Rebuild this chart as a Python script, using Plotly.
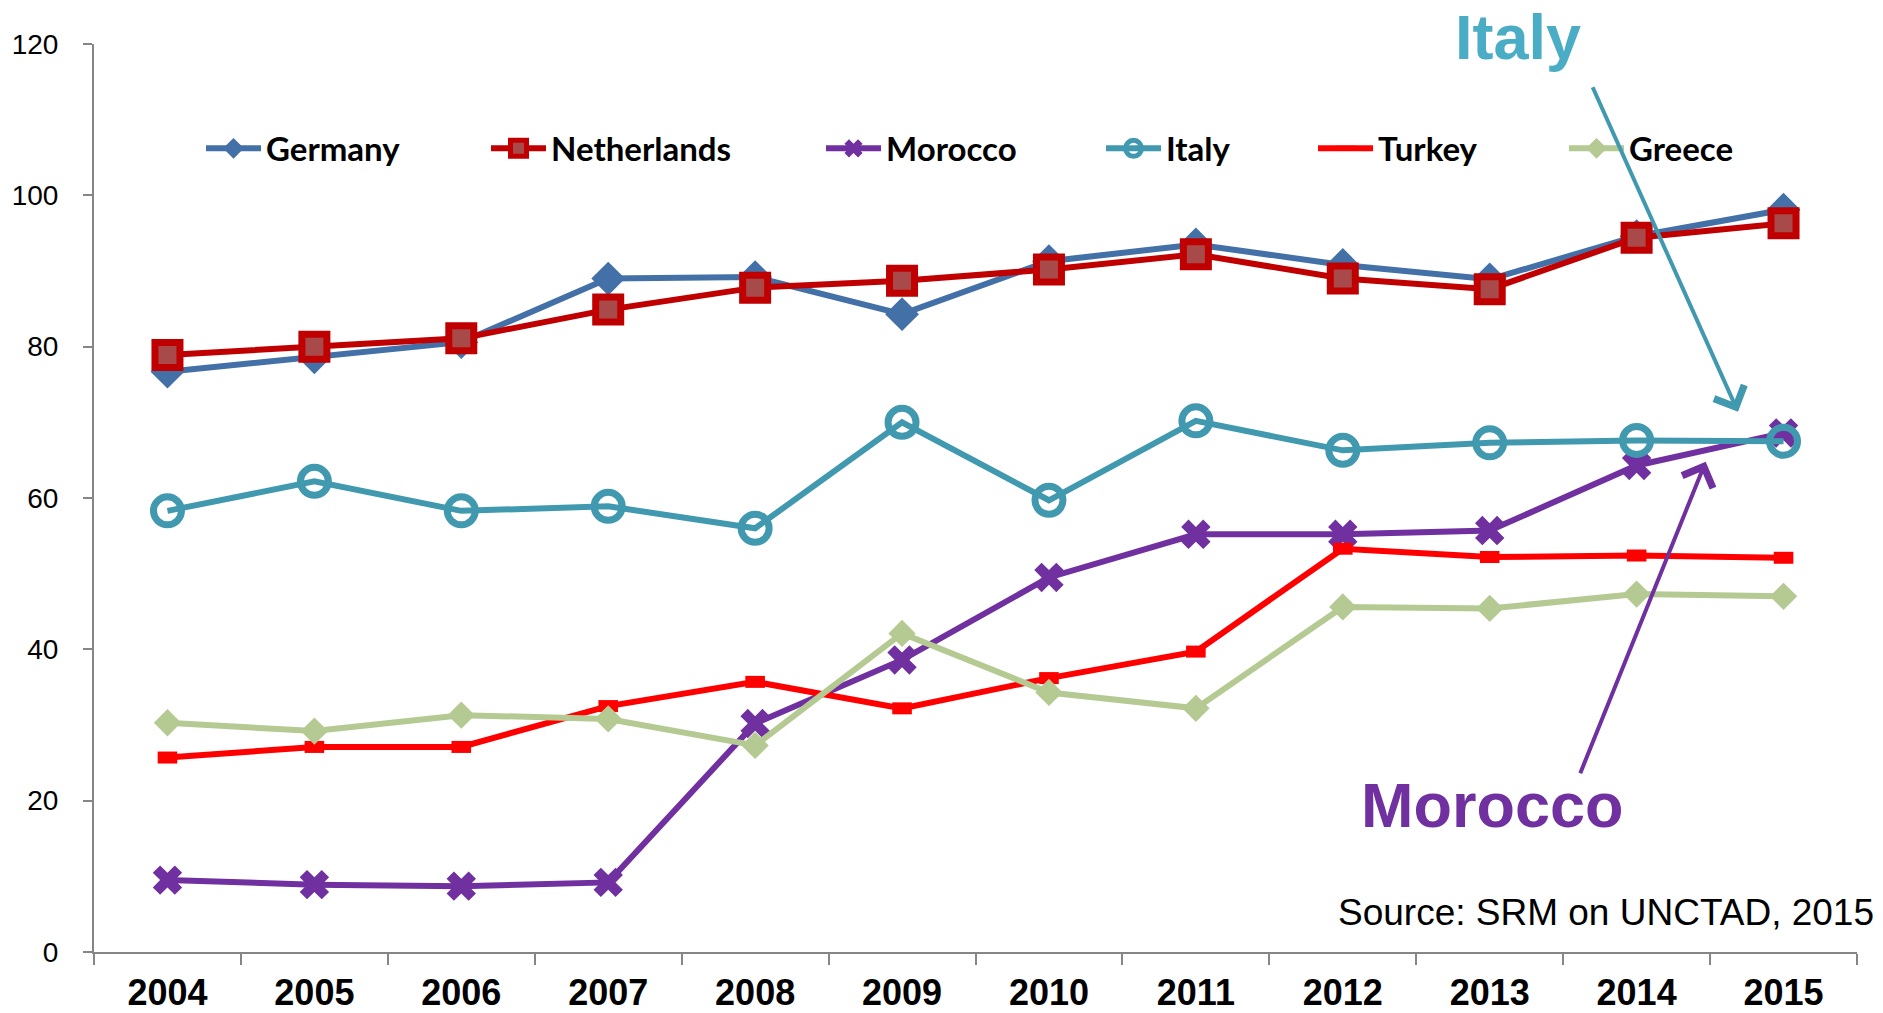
import plotly.graph_objects as go

# Inward FDI performance index by country, 2004-2015
years = ["2004", "2005", "2006", "2007", "2008", "2009",
         "2010", "2011", "2012", "2013", "2014", "2015"]
germany = [76.7, 78.6, 80.6, 89.0, 89.2, 84.3, 91.3, 93.5, 90.8, 88.9, 94.6, 98.1]
netherlands = [78.9, 80.0, 81.1, 84.9, 87.8, 88.7, 90.2, 92.2, 89.0, 87.6, 94.4, 96.3]
morocco = [9.5, 8.9, 8.7, 9.2, 30.2, 38.6, 49.5, 55.2, 55.2, 55.7, 64.3, 68.6]
italy = [58.3, 62.2, 58.3, 58.9, 56.0, 70.0, 59.7, 70.2, 66.3, 67.3, 67.6, 67.5]
turkey = [25.7, 27.1, 27.1, 32.5, 35.7, 32.2, 36.2, 39.7, 53.3, 52.2, 52.4, 52.1]
greece = [30.3, 29.2, 31.3, 30.8, 27.3, 42.1, 34.3, 32.2, 45.6, 45.4, 47.3, 47.0]

y_ticks = [0, 20, 40, 60, 80, 100, 120]

series = [
    dict(name="Germany", y=germany, color="#4470A8",
         marker=dict(symbol="diamond", size=26, color="#4470A8"), lw=215),
    dict(name="Netherlands", y=netherlands, color="#C00000",
         marker=dict(symbol="square", size=25, color="#A94A4A",
                     line=dict(color="#C00000", width=7)), lw=265),
    dict(name="Morocco", y=morocco, color="#7030A0",
         marker=dict(symbol="x", size=26, color="#7030A0"), lw=210),
    dict(name="Italy", y=italy, color="#4199B0",
         marker=dict(symbol="circle-open", size=28,
                     line=dict(color="#4199B0", width=7)), lw=142),
    dict(name="Turkey", y=turkey, color="#FF0000",
         marker=dict(symbol="line-ew-open", size=14,
                     line=dict(color="#FF0000", width=12)), lw=181),
    dict(name="Greece", y=greece, color="#B4CA92",
         marker=dict(symbol="diamond", size=21, color="#B4CA92"), lw=125),
]

fig = go.Figure()
for s in series:
    fig.add_trace(go.Scatter(
        x=years, y=s["y"], name=s["name"], mode="lines+markers",
        line=dict(color=s["color"], width=6),
        marker=s["marker"], legendwidth=s["lw"],
    ))

axis_color = "#868686"
fig.update_layout(
    width=1883, height=1013,
    margin=dict(l=94, r=26, t=44, b=61),
    paper_bgcolor="white", plot_bgcolor="white",
    showlegend=True,
    legend=dict(
        orientation="h", xref="paper", yref="paper",
        x=0.0607, y=0.885, xanchor="left", yanchor="middle",
        font=dict(family="Lato", size=33, color="black", weight="bold"),
        bgcolor="rgba(0,0,0,0)", itemwidth=55,
    ),
    xaxis=dict(
        type="category", range=[-0.5, 11.5], automargin=False,
        showline=True, linecolor=axis_color, linewidth=2,
        ticks="outside", tickson="boundaries", ticklen=11,
        tickcolor=axis_color, tickwidth=2,
        showgrid=False, zeroline=False,
        tickfont=dict(family="Liberation Sans Narrow, Liberation Sans", size=36,
                      color="black", weight="bold"),
        ticklabelstandoff=8,
    ),
    yaxis=dict(
        range=[0, 120], tickvals=y_ticks, automargin=False,
        showline=True, linecolor=axis_color, linewidth=2,
        ticks="outside", ticklen=9, tickcolor=axis_color, tickwidth=2,
        showgrid=False, zeroline=False,
        tickfont=dict(family="Liberation Sans", size=28, color="black"),
        ticklabelstandoff=19,
    ),
)

# Callout arrows pointing at the 2015 end of the Italy and Morocco lines
fig.add_annotation(x=10.69, y=71.4, xref="x", yref="y", text="",
                   showarrow=True, ax=-146, ay=-326, arrowhead=4,
                   arrowsize=1.6, arrowwidth=4, arrowcolor="#4199B0")
fig.add_annotation(x=10.47, y=64.8, xref="x", yref="y", text="",
                   showarrow=True, ax=-126, ay=313, arrowhead=4,
                   arrowsize=1.6, arrowwidth=4, arrowcolor="#7030A0")

fig.add_annotation(x=0.8077, y=1.008, xref="paper", yref="paper",
                   text="<b>Italy</b>", showarrow=False,
                   xanchor="center", yanchor="middle",
                   font=dict(family="Liberation Sans", size=63, color="#4BACC6"))
fig.add_annotation(x=0.7935, y=0.162, xref="paper", yref="paper",
                   text="<b>Morocco</b>", showarrow=False,
                   xanchor="center", yanchor="middle",
                   font=dict(family="Liberation Sans", size=63, color="#7030A0"))
fig.add_annotation(x=1.0108, y=0.044, xref="paper", yref="paper",
                   text="Source: SRM on UNCTAD, 2015", showarrow=False,
                   xanchor="right", yanchor="middle",
                   font=dict(family="Liberation Sans", size=37, color="black"))

fig.write_html("out.html")
